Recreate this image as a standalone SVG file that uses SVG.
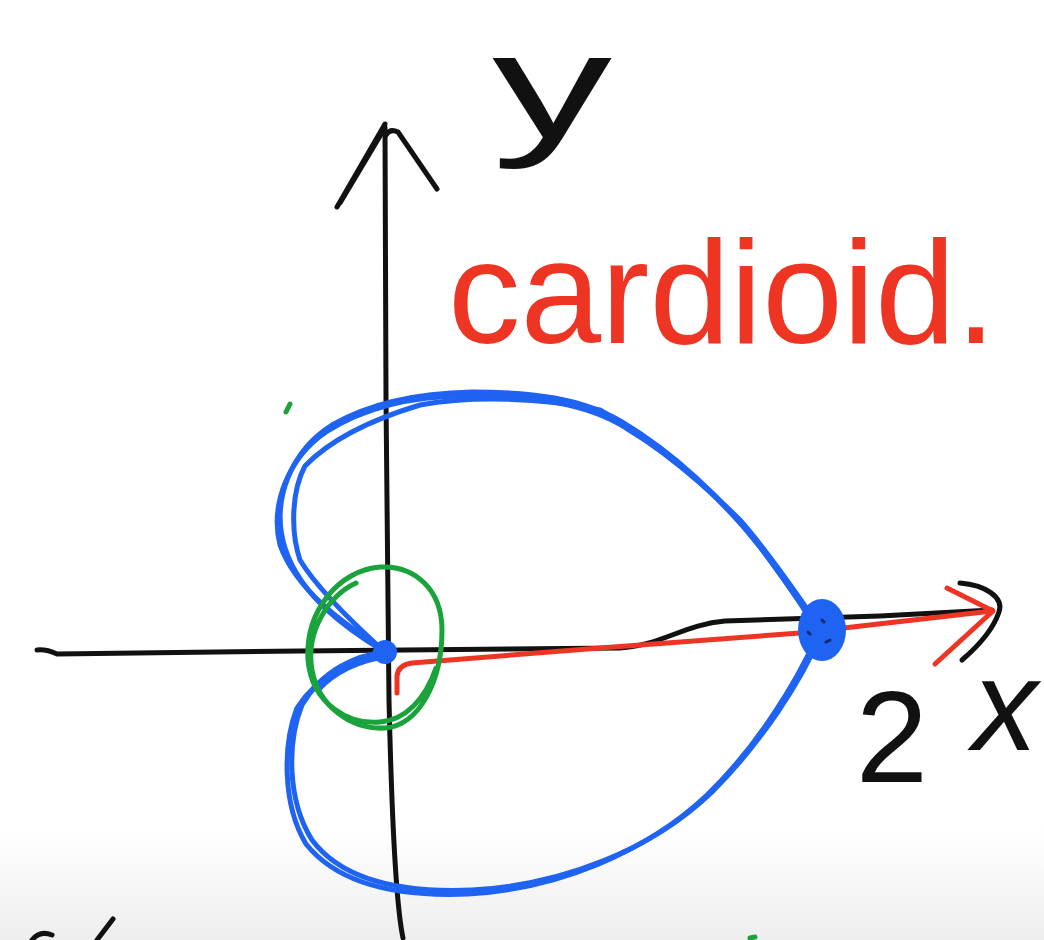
<svg xmlns="http://www.w3.org/2000/svg" width="1044" height="940" viewBox="0 0 1044 940">
<defs>
<linearGradient id="bg" x1="0" y1="0" x2="0" y2="1">
<stop offset="0" stop-color="#ffffff"/>
<stop offset="0.88" stop-color="#ffffff"/>
<stop offset="1" stop-color="#eeeeee"/>
</linearGradient>
<style>
.ink{fill:none;stroke-linecap:round;stroke-linejoin:round}
.blk{stroke:#111;stroke-width:5}
.blu{stroke:#1f63f2;stroke-width:5}
.grn{stroke:#1aa33a;stroke-width:5}
.red{stroke:#ee3524;stroke-width:5}
.lbl{font-family:"Liberation Sans","DejaVu Sans",sans-serif}
</style>
</defs>
<rect width="1044" height="940" fill="url(#bg)"/>

<g id="connectors">
<g id="y-axis">
<path class="ink blk" d="M 403 938 C 396 905 392 830 389 700 L 386 400 L 385 127"/>
<path class="ink blk" d="M 337 207 L 385 124 M 340 203 L 383 131 M 386 135 Q 390 128 398 132 L 437 189"/>
</g>
<g id="x-axis">
<path class="ink blk" d="M 37 650 Q 46 649 57 654 L 300 651 L 620 648 C 660 646 685 624 725 621 L 880 616 L 992 610"/>
<path class="ink blk" d="M 960 583 C 985 585 1004 597 999 612 C 993 630 976 648 962 660"/>
</g>
<g id="red-arrow">
<path class="ink red" d="M 397 693 L 397 676 Q 398 665 412 663 L 600 648 L 800 633 L 992 611"/>
<path class="ink red" d="M 947 588 L 993 611 L 935 664"/>
</g>
</g>

<g id="cardioid">
<path class="ink blu" d="M 385 652 C 345 628 300 595 285 548 C 270 500 292 450 332 425 C 372 402 422 393 472 392 C 532 392 582 398 622 422 C 672 452 722 497 760 547 C 790 587 808 615 822 632 C 802 680 762 742 712 792 C 652 850 562 885 472 890 C 402 893 342 880 312 840 C 287 800 287 742 302 705 C 322 670 357 655 385 652 Z"/>
<path class="ink blu" d="M 380 648 C 342 622 296 590 280 545 C 270 505 288 458 326 432 C 368 405 420 396 466 396 C 530 396 585 402 626 428 C 676 458 726 502 764 552 C 792 590 810 616 818 634 C 796 684 756 748 706 796 C 646 852 558 889 468 894 C 398 897 338 884 306 844 C 282 804 283 744 297 708 C 318 675 355 658 385 655"/>
<path class="ink blu" d="M 385 652 C 355 625 318 590 300 560 C 290 530 292 490 305 466 C 330 440 370 420 420 405 C 470 396 540 397 600 410 C 650 440 700 480 740 520 C 775 560 800 600 822 630"/>
<path class="ink blu" d="M 385 657 C 360 660 335 672 318 690 M 822 636 C 805 665 790 690 770 720"/>
<ellipse cx="385" cy="652" rx="12" ry="12" fill="#1f63f2"/>
<ellipse cx="822" cy="630" rx="24" ry="31" fill="#1f63f2"/>
<path class="ink" stroke="#0d2a70" stroke-width="3" d="M 808 632 L 810 634 M 830 640 L 826 642 M 822 620 L 824 622"/>
</g>

<g id="circle">
<path class="ink grn" d="M 356 583 C 330 595 305 630 312 670 C 318 705 350 730 385 728 C 420 725 442 680 442 630 C 442 590 415 565 380 567 C 340 570 305 610 308 660 C 312 705 350 725 380 722 C 405 720 425 700 436 668"/>
<path class="ink grn" stroke-width="4" d="M 290 404 L 286 412"/>
<path class="ink grn" stroke-width="4" d="M 750 938 L 755 937"/>
</g>

<g id="fragment">
<path class="ink blk" d="M 32 940 Q 40 930 52 935 M 113 919 L 97 940"/>
</g>

<g id="labels">
<text class="lbl" transform="translate(552,138) scale(1.6,1)" x="0" y="0" font-size="150" fill="#111" text-anchor="middle">y</text>
<text class="lbl" x="448" y="343" font-size="146" fill="#ee3524" textLength="548" lengthAdjust="spacingAndGlyphs">cardioid.</text>
<text class="lbl" x="892" y="782" font-size="130" fill="#111" text-anchor="middle">2</text>
<text class="lbl" x="1005" y="750" font-size="130" fill="#111" text-anchor="middle" font-style="italic">x</text>
</g>
</svg>
